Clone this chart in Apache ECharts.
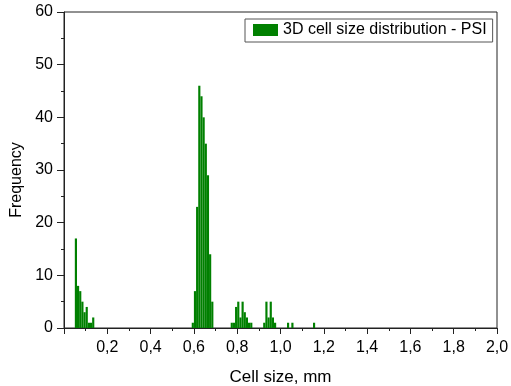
<!DOCTYPE html>
<html>
<head>
<meta charset="utf-8">
<script src="https://cdn.jsdelivr.net/npm/echarts@6/dist/echarts.min.js"></script>
<style>
  html, body { margin: 0; padding: 0; background: #fff; }
  #chart { width: 511px; height: 386px; }
</style>
</head>
<body>
<div id="chart"></div>
<script>
// histogram bins: left edge of each bin (mm) and its count
const binWidth = 0.01;
const binStarts = [
  0.05, 0.06, 0.07, 0.08, 0.09, 0.10, 0.11, 0.12, 0.13,
  0.59, 0.60, 0.61, 0.62, 0.63, 0.64, 0.65, 0.66, 0.67, 0.68,
  0.77, 0.78, 0.79, 0.80, 0.81, 0.82, 0.83, 0.84, 0.85, 0.86,
  0.92, 0.93, 0.94, 0.95, 0.96, 0.97,
  1.03, 1.05, 1.15
];
const counts = [
  17, 8, 7, 5, 3, 4, 1, 1, 2,
  1, 7, 23, 46, 44, 40, 35, 29, 14, 5,
  1, 1, 4, 5, 2, 5, 3, 2, 1, 1,
  1, 5, 2, 5, 2, 1,
  1, 1, 1
];
const seriesName = '3D cell size distribution - PSI';

const fontFamily = '"Liberation Sans", Arial, sans-serif';
const lineColor = '#222';

const histData = binStarts.map((x, i) => [x, x + binWidth, counts[i]]);

const chart = echarts.init(document.getElementById('chart'));

chart.setOption({
  animation: false,
  textStyle: { fontFamily: fontFamily },
  grid: {
    left: 64, right: 14, top: 12, bottom: 58,
    outerBoundsMode: 'none',
    show: true, borderColor: lineColor, borderWidth: 1
  },
  legend: {
    left: 245, top: 19,
    padding: [3, 6, 4, 8],
    borderColor: '#555', borderWidth: 1,
    itemWidth: 25, itemHeight: 12, itemGap: 2,
    icon: 'rect',
    textStyle: { fontSize: 16, color: '#000', fontFamily: fontFamily },
    data: [seriesName]
  },
  xAxis: {
    type: 'value',
    min: 0, max: 2, interval: 0.2,
    name: 'Cell size, mm',
    nameLocation: 'middle',
    nameGap: 41,
    nameTextStyle: { fontSize: 17, color: '#000' },
    splitLine: { show: false },
    axisLine: { lineStyle: { color: lineColor } },
    axisTick: { length: 6, lineStyle: { color: lineColor } },
    minorTick: { show: true, splitNumber: 2, length: 3, lineStyle: { color: lineColor } },
    axisLabel: {
      fontSize: 16, color: '#000', margin: 12,
      formatter: v => v === 0 ? '' : v.toFixed(1).replace('.', ',')
    }
  },
  yAxis: {
    type: 'value',
    min: 0, max: 60, interval: 10,
    name: 'Frequency',
    nameLocation: 'middle',
    nameGap: 32,
    nameTextStyle: { fontSize: 16, color: '#000', padding: [0, 20, 0, 0] },
    splitLine: { show: false },
    axisLine: { show: true, lineStyle: { color: lineColor } },
    axisTick: { show: true, length: 7, lineStyle: { color: lineColor } },
    minorTick: { show: true, splitNumber: 2, length: 3, lineStyle: { color: lineColor } },
    axisLabel: { fontSize: 16, color: '#000', margin: 11 }
  },
  series: [{
    name: seriesName,
    type: 'custom',
    itemStyle: { color: '#008000' },
    encode: { x: [0, 1], y: 2 },
    data: histData,
    renderItem: function (params, api) {
      const p0 = api.coord([api.value(0), 0]);
      const p1 = api.coord([api.value(1), api.value(2)]);
      return {
        type: 'rect',
        shape: { x: p0[0], y: p1[1], width: p1[0] - p0[0], height: p0[1] - p1[1] },
        style: { fill: '#008000' }
      };
    }
  }]
});
</script>
</body>
</html>
